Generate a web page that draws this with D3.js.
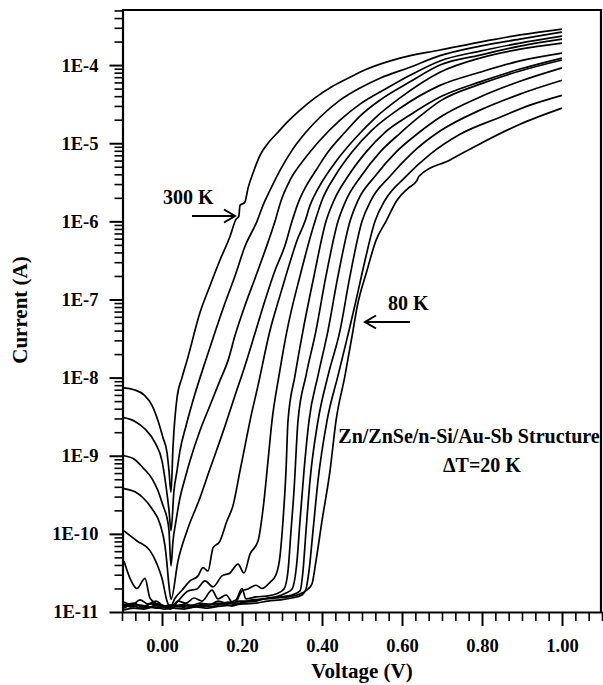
<!DOCTYPE html>
<html><head><meta charset="utf-8">
<script src="https://cdn.jsdelivr.net/npm/d3@7"></script>
<style>body{margin:0;background:#fff}</style>
</head><body><svg id="c" width="603" height="685"></svg>
<script>
// Temperatures (K), 300 K down to 80 K, ΔT = 20 K
const temperatures = [300, 280, 260, 240, 220, 200, 180, 160, 140, 120, 100, 80];

// [Voltage (V), Current (A)]
const iv300 = [[-0.095,7.4e-9],[-0.07,7.0e-9],[-0.045,6.0e-9],[-0.025,4.4e-9],[-0.01,2.8e-9],[0.0025,1.7e-9],[0.0125,1.1e-9],[0.0175,6.4e-10],[0.0225,3.4e-10],[0.0275,1.3e-9],[0.0375,5.5e-9],[0.05,1.0e-8],[0.0625,1.65e-8],[0.095,6.8e-8],[0.12,1.5e-7],[0.145,3.2e-7],[0.17,6.4e-7],[0.185,1.06e-6],[0.192,1.16e-6],[0.195,1.6e-6],[0.207,1.75e-6],[0.215,2.65e-6],[0.23,4.5e-6],[0.245,7.0e-6],[0.265,1.0e-5],[0.2875,1.34e-5],[0.315,1.9e-5],[0.345,2.65e-5],[0.3825,3.8e-5],[0.4275,5.4e-5],[0.47,7.0e-5],[0.5125,8.9e-5],[0.595,1.23e-4],[0.695,1.56e-4],[0.795,1.97e-4],[0.895,2.43e-4],[1.0,2.89e-4]];
const iv280 = [[-0.095,3.07e-9],[-0.0675,2.75e-9],[-0.0425,2.2e-9],[-0.0175,1.47e-9],[0.0,8.6e-10],[0.01,4.1e-10],[0.0175,2.0e-10],[0.0225,1.1e-10],[0.03,3.6e-10],[0.0375,6.4e-10],[0.045,1.16e-9],[0.06,2.4e-9],[0.0825,6.2e-9],[0.1075,1.56e-8],[0.1325,3.8e-8],[0.1575,9.0e-8],[0.1825,2.0e-7],[0.2075,4.8e-7],[0.2375,1.0e-6],[0.2525,1.6e-6],[0.27,2.5e-6],[0.295,4.5e-6],[0.325,8.1e-6],[0.3575,1.34e-5],[0.395,2.15e-5],[0.445,3.56e-5],[0.495,5.1e-5],[0.545,6.8e-5],[0.62,9.4e-5],[0.695,1.32e-4],[0.795,1.75e-4],[0.895,2.15e-4],[1.0,2.65e-4]];
const iv260 = [[-0.095,1.0e-9],[-0.0675,8.9e-10],[-0.0475,7.0e-10],[-0.025,5.1e-10],[-0.01,3.56e-10],[0.0025,2.3e-10],[0.0125,1.6e-10],[0.0175,1.1e-10],[0.0225,3.9e-11],[0.0275,8.1e-11],[0.035,1.47e-10],[0.045,2.9e-10],[0.0575,5.1e-10],[0.07,8.6e-10],[0.095,2.1e-9],[0.12,4.4e-9],[0.145,9.2e-9],[0.165,1.65e-8],[0.1825,3.45e-8],[0.2075,8.4e-8],[0.2325,1.86e-7],[0.2575,4.2e-7],[0.2825,1.0e-6],[0.297,1.8e-6],[0.32,3.36e-6],[0.3575,6.4e-6],[0.395,1.09e-5],[0.445,1.97e-5],[0.495,3.16e-5],[0.5575,4.9e-5],[0.62,7.4e-5],[0.695,1.13e-4],[0.795,1.51e-4],[0.895,1.91e-4],[1.0,2.35e-4]];
const iv240 = [[-0.095,3.8e-10],[-0.0675,3.45e-10],[-0.0475,2.9e-10],[-0.025,2.1e-10],[-0.005,1.34e-10],[0.0075,7.0e-11],[0.0125,4.1e-11],[0.0175,2.15e-11],[0.0225,1.45e-11],[0.04,4.5e-11],[0.0625,1.09e-10],[0.095,2.9e-10],[0.12,6.8e-10],[0.145,1.56e-9],[0.1575,2.4e-9],[0.1825,5.9e-9],[0.2075,1.42e-8],[0.2325,3.7e-8],[0.2575,9.7e-8],[0.2825,2.35e-7],[0.3075,4.9e-7],[0.325,1.0e-6],[0.34,1.7e-6],[0.36,2.81e-6],[0.385,4.5e-6],[0.415,7.7e-6],[0.4575,1.38e-5],[0.495,2.22e-5],[0.545,3.56e-5],[0.62,6.1e-5],[0.695,1.0e-4],[0.795,1.34e-4],[0.895,1.75e-4],[1.0,2.15e-4]];
const iv220 = [[-0.095,1.09e-10],[-0.0625,8.1e-11],[-0.03,6.1e-11],[-0.0125,4.1e-11],[0.0,2.7e-11],[0.0125,1.38e-11],[0.02,1.15e-11],[0.0325,1.5e-11],[0.05,1.9e-11],[0.07,2.5e-11],[0.09,2.9e-11],[0.1025,3.7e-11],[0.115,3.35e-11],[0.1275,6.6e-11],[0.145,8.1e-11],[0.1625,1.47e-10],[0.1775,2.3e-10],[0.195,6.4e-10],[0.2075,1.34e-9],[0.22,2.8e-9],[0.24,7.9e-9],[0.27,4.0e-8],[0.295,1.12e-7],[0.32,3.0e-7],[0.3375,5.7e-7],[0.3575,1.0e-6],[0.37,1.6e-6],[0.395,2.9e-6],[0.4375,6.1e-6],[0.4825,1.15e-5],[0.5325,2.1e-5],[0.595,3.8e-5],[0.695,8.1e-5],[0.795,1.23e-4],[0.895,1.6e-4],[1.0,1.91e-4]];
const iv200 = [[-0.095,4.5e-11],[-0.08,2.7e-11],[-0.0625,2.0e-11],[-0.0425,2.7e-11],[-0.03,1.5e-11],[-0.0125,1.27e-11],[0.0075,1.19e-11],[0.02,1.09e-11],[0.04,1.38e-11],[0.065,1.86e-11],[0.0875,1.97e-11],[0.1075,2.5e-11],[0.1275,2.1e-11],[0.15,2.9e-11],[0.17,3.16e-11],[0.19,4.1e-11],[0.205,3.16e-11],[0.22,5.5e-11],[0.24,8.1e-11],[0.255,2.65e-10],[0.265,8.6e-10],[0.275,2.8e-9],[0.2925,1.06e-8],[0.3125,4.0e-8],[0.345,2.0e-7],[0.3825,1.0e-6],[0.40,1.86e-6],[0.4325,3.8e-6],[0.475,7.7e-6],[0.525,1.47e-5],[0.595,2.8e-5],[0.695,5.5e-5],[0.795,8.1e-5],[0.895,1.13e-4],[1.0,1.42e-4]];
const iv180 = [[-0.095,1.34e-11],[-0.075,1.23e-11],[-0.055,1.43e-11],[-0.035,1.27e-11],[-0.015,1.38e-11],[0.005,1.16e-11],[0.02,1.12e-11],[0.04,1.38e-11],[0.06,1.3e-11],[0.08,1.51e-11],[0.1,1.38e-11],[0.125,1.9e-11],[0.14,1.47e-11],[0.16,1.65e-11],[0.18,1.25e-11],[0.2,1.86e-11],[0.215,1.97e-11],[0.235,2.2e-11],[0.25,2.0e-11],[0.27,2.4e-11],[0.285,3.0e-11],[0.295,5.2e-11],[0.3025,1.47e-10],[0.31,6.4e-10],[0.315,2.8e-9],[0.3325,1.06e-8],[0.3525,4.0e-8],[0.38,2.0e-7],[0.41,1.0e-6],[0.43,1.86e-6],[0.465,3.78e-6],[0.51,7.7e-6],[0.5575,1.38e-5],[0.62,2.3e-5],[0.695,3.9e-5],[0.795,6.1e-5],[0.895,8.9e-5],[1.0,1.23e-4]];
const iv160 = [[-0.095,1.19e-11],[-0.07,1.3e-11],[-0.05,1.16e-11],[-0.03,1.27e-11],[-0.005,1.23e-11],[0.02,1.16e-11],[0.045,1.23e-11],[0.07,1.19e-11],[0.095,1.3e-11],[0.12,1.23e-11],[0.14,1.38e-11],[0.16,1.3e-11],[0.185,1.43e-11],[0.2,2.0e-11],[0.21,1.47e-11],[0.235,1.56e-11],[0.26,1.6e-11],[0.285,1.7e-11],[0.305,1.97e-11],[0.315,3.35e-11],[0.3225,1.09e-10],[0.33,3.56e-10],[0.34,2.8e-9],[0.36,1.06e-8],[0.385,4.0e-8],[0.41,2.0e-7],[0.44,1.0e-6],[0.46,1.86e-6],[0.4975,3.78e-6],[0.545,7.7e-6],[0.595,1.34e-5],[0.645,2.22e-5],[0.695,3.46e-5],[0.795,5.7e-5],[0.895,8.4e-5],[1.0,1.16e-4]];
const iv140 = [[-0.095,1.12e-11],[-0.075,1.23e-11],[-0.055,1.12e-11],[-0.035,1.16e-11],[-0.01,1.12e-11],[0.01,1.19e-11],[0.035,1.23e-11],[0.06,1.12e-11],[0.085,1.19e-11],[0.11,1.27e-11],[0.135,1.23e-11],[0.165,1.34e-11],[0.195,1.3e-11],[0.225,1.43e-11],[0.255,1.47e-11],[0.285,1.56e-11],[0.31,1.75e-11],[0.325,1.97e-11],[0.3375,4.5e-11],[0.345,1.47e-10],[0.355,6.4e-10],[0.3675,2.8e-9],[0.39,1.06e-8],[0.415,4.0e-8],[0.44,2.0e-7],[0.47,1.0e-6],[0.49,1.86e-6],[0.5325,3.78e-6],[0.585,7.7e-6],[0.64,1.34e-5],[0.695,2.15e-5],[0.795,3.9e-5],[0.895,6.2e-5],[1.0,9.2e-5]];
const iv120 = [[-0.095,1.27e-11],[-0.075,1.16e-11],[-0.055,1.23e-11],[-0.03,1.16e-11],[-0.01,1.27e-11],[0.015,1.12e-11],[0.04,1.19e-11],[0.06,1.27e-11],[0.08,1.16e-11],[0.1,1.23e-11],[0.125,1.16e-11],[0.15,1.27e-11],[0.175,1.19e-11],[0.205,1.34e-11],[0.235,1.38e-11],[0.265,1.51e-11],[0.295,1.56e-11],[0.325,1.65e-11],[0.345,1.86e-11],[0.3525,3.35e-11],[0.36,1.09e-10],[0.37,4.8e-10],[0.39,2.8e-9],[0.415,1.06e-8],[0.445,4.0e-8],[0.47,2.0e-7],[0.5,1.0e-6],[0.5225,1.86e-6],[0.57,3.78e-6],[0.6275,7.7e-6],[0.695,1.43e-5],[0.795,2.65e-5],[0.895,4.25e-5],[1.0,6.4e-5]];
const iv100 = [[-0.095,1.06e-11],[-0.07,1.12e-11],[-0.045,1.09e-11],[-0.02,1.16e-11],[0.005,1.09e-11],[0.03,1.12e-11],[0.055,1.09e-11],[0.085,1.16e-11],[0.115,1.12e-11],[0.145,1.19e-11],[0.175,1.23e-11],[0.205,1.27e-11],[0.235,1.3e-11],[0.265,1.38e-11],[0.295,1.43e-11],[0.325,1.51e-11],[0.35,1.65e-11],[0.36,1.97e-11],[0.3675,3.35e-11],[0.3775,1.09e-10],[0.39,4.8e-10],[0.4125,2.8e-9],[0.44,1.06e-8],[0.4675,4.0e-8],[0.485,9.7e-8],[0.5075,3.16e-7],[0.5325,1.0e-6],[0.5575,1.86e-6],[0.6075,3.66e-6],[0.67,7.2e-6],[0.745,1.3e-5],[0.845,2.15e-5],[0.92,3.07e-5],[1.0,4.1e-5]];
const iv80 = [[-0.095,1.16e-11],[-0.07,1.27e-11],[-0.045,1.16e-11],[-0.025,1.3e-11],[-0.005,1.16e-11],[0.02,1.23e-11],[0.045,1.16e-11],[0.075,1.23e-11],[0.105,1.19e-11],[0.135,1.3e-11],[0.165,1.27e-11],[0.195,1.38e-11],[0.225,1.38e-11],[0.255,1.47e-11],[0.285,1.51e-11],[0.315,1.56e-11],[0.345,1.7e-11],[0.365,1.97e-11],[0.375,2.3e-11],[0.385,4.5e-11],[0.40,1.47e-10],[0.42,6.4e-10],[0.435,2.8e-9],[0.4575,1.06e-8],[0.4775,4.0e-8],[0.4875,7.9e-8],[0.5125,2.35e-7],[0.535,5.7e-7],[0.56,1.0e-6],[0.5875,1.86e-6],[0.615,2.65e-6],[0.6375,3.35e-6],[0.6425,3.78e-6],[0.72,6.1e-6],[0.8025,1.03e-5],[0.895,1.75e-5],[1.0,2.81e-5]];

const series = [iv300, iv280, iv260, iv240, iv220, iv200, iv180, iv160, iv140, iv120, iv100, iv80];

// Axis ticks
const yMajorTicks = [1e-11, 1e-10, 1e-9, 1e-8, 1e-7, 1e-6, 1e-5, 1e-4];
const yTickLabels = ["1E-11", "1E-10", "1E-9", "1E-8", "1E-7", "1E-6", "1E-5", "1E-4"];
const xMajorTicks = [0, 0.2, 0.4, 0.6, 0.8, 1.0];
const xTickLabels = ["0.00", "0.20", "0.40", "0.60", "0.80", "1.00"];

const FONT = "'Liberation Serif','Times New Roman',serif";
const svg = d3.select("#c");
const x = d3.scaleLinear().domain([-0.1, 1.1]).range([122, 602]);
const y = d3.scaleLog().domain([1e-11, 5.07e-4]).range([612, 10]);

// minor ticks
const yMinor = [];
for (let e = -11; e <= -4; e++) for (let m = 2; m <= 9; m++) { const v = m * Math.pow(10, e); if (v <= 5.07e-4) yMinor.push(v); }
const xMinor = d3.range(-3, 34).map(k => k / 30).filter(v => !xMajorTicks.some(t => Math.abs(t - v) < 1e-6));

const g = svg.append("g");
g.append("g").attr("transform", "translate(122.5,0)")
  .call(d3.axisLeft(y).tickValues(yMinor).tickSize(8).tickSizeOuter(0).tickFormat(""))
  .call(s => s.select(".domain").remove())
  .call(s => s.selectAll("line").attr("stroke", "#000").attr("stroke-width", 1.6));
g.append("g").attr("transform", "translate(122.5,0)")
  .call(d3.axisLeft(y).tickValues(yMajorTicks).tickSize(13).tickSizeOuter(0).tickPadding(11)
    .tickFormat((d, i) => yTickLabels[i]))
  .call(s => s.select(".domain").attr("stroke-width", 2.2))
  .call(s => s.selectAll("line").attr("stroke", "#000").attr("stroke-width", 2))
  .call(s => s.selectAll("text").attr("font-family", FONT).attr("font-weight", "bold").attr("font-size", 18.5).attr("fill", "#000"));
g.append("g").attr("transform", "translate(0,612)")
  .call(d3.axisBottom(x).tickValues(xMinor).tickSize(9).tickSizeOuter(0).tickFormat(""))
  .call(s => s.select(".domain").remove())
  .call(s => s.selectAll("line").attr("stroke", "#000").attr("stroke-width", 1.6));
g.append("g").attr("transform", "translate(0,612)")
  .call(d3.axisBottom(x).tickValues(xMajorTicks).tickSize(14).tickSizeOuter(0).tickPadding(13)
    .tickFormat((d, i) => xTickLabels[i]))
  .call(s => s.select(".domain").attr("stroke-width", 2.2))
  .call(s => s.selectAll("line").attr("stroke", "#000").attr("stroke-width", 2))
  .call(s => s.selectAll("text").attr("font-family", FONT).attr("font-weight", "bold").attr("font-size", 18.5).attr("fill", "#000"));

// frame top/right
svg.append("path").attr("d", `M${x(-0.1)},${y.range()[1]}H${x(1.1) - 1}V${y.range()[0]}`)
  .attr("fill", "none").attr("stroke", "#000").attr("stroke-width", 2.2);

// curves
const line = d3.line().x(d => x(d[0])).y(d => y(d[1])).curve(d3.curveMonotoneX);
svg.append("g").selectAll("path").data(series).join("path")
  .attr("d", line).attr("fill", "none").attr("stroke", "#000").attr("stroke-width", 1.7)
  .attr("stroke-linejoin", "round");

// axis titles
svg.append("text").attr("x", 362).attr("y", 678).attr("text-anchor", "middle")
  .attr("font-family", FONT).attr("font-weight", "bold").attr("font-size", 21).text("Voltage (V)");
svg.append("text").attr("transform", "translate(27,310) rotate(-90)").attr("text-anchor", "middle")
  .attr("font-family", FONT).attr("font-weight", "bold").attr("font-size", 21).text("Current (A)");

// annotations
const ann = svg.append("g").attr("font-family", FONT).attr("font-weight", "bold").attr("font-size", 20);
ann.append("text").attr("x", 163).attr("y", 204).text(temperatures[0] + " K");
ann.append("text").attr("x", 388).attr("y", 310).text(temperatures[11] + " K");
ann.append("text").attr("x", 469).attr("y", 443).attr("text-anchor", "middle").text("Zn/ZnSe/n-Si/Au-Sb Structure");
ann.append("text").attr("x", 482).attr("y", 472).attr("text-anchor", "middle").text("ΔT=20 K");

// arrows
const arr = svg.append("g").attr("fill", "none").attr("stroke", "#000").attr("stroke-width", 2);
arr.append("path").attr("d", "M192,216H234");
arr.append("path").attr("d", "M224,209.5L235,216L224,222.5");
arr.append("path").attr("d", "M366,322H410");
arr.append("path").attr("d", "M376,315.5L365,322L376,328.5");
</script></body></html>
